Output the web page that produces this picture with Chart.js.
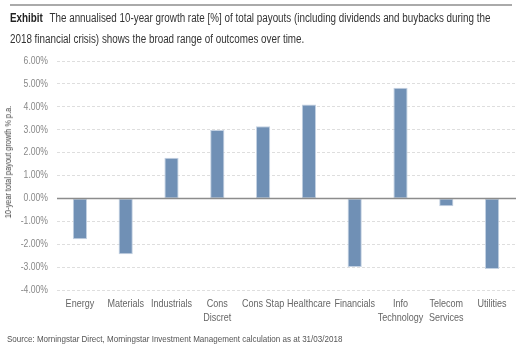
<!DOCTYPE html>
<html>
<head>
<meta charset="utf-8">
<script src="https://cdn.jsdelivr.net/npm/chart.js@4"></script>
<style>
  html, body { margin: 0; padding: 0; background: #fff; }
  body { width: 520px; height: 352px; position: relative; overflow: hidden;
         font-family: "Liberation Sans", Arial, sans-serif; }
  .narrow { transform: scaleX(0.82); transform-origin: 0 0; white-space: nowrap; }
  #topline { position: absolute; left: 10px; top: 4px; width: 502px; height: 2px; background: #aaa; }
  #title { position: absolute; left: 10px; top: 8px; font-size: 12px; line-height: 21px; color: #333; }
  #title b { color: #222; margin-right: 5px; }
  #source { position: absolute; left: 7px; top: 333px; font-size: 9.8px; color: #555; }
  #ytitle { position: absolute; left: 8px; top: 162px; font-size: 9px; color: #444; white-space: nowrap;
            transform: translate(-50%, -50%) rotate(-90deg) scaleX(0.82); }
  #wrap { position: absolute; left: 0; top: 0; width: 520px; height: 352px; }
</style>
</head>
<body>
<div id="topline"></div>
<div id="wrap"><canvas id="c" width="520" height="352"></canvas></div>
<div id="title" class="narrow"><b>Exhibit</b> The annualised 10-year growth rate [%] of total payouts (including dividends and buybacks during the<br>2018 financial crisis) shows the broad range of outcomes over time.</div>
<div id="ytitle">10-year total payout growth % p.a.</div>
<div id="source" class="narrow">Source: Morningstar Direct, Morningstar Investment Management calculation as at 31/03/2018</div>
<script>
const categories = ["Energy", "Materials", "Industrials", ["Cons", "Discret"], "Cons Stap", "Healthcare", "Financials", ["Info", "Technology"], ["Telecom", "Services"], "Utilities"];
const payoutGrowth = [-1.78, -2.44, 1.78, 2.99, 3.15, 4.10, -3.00, 4.83, -0.34, -3.08];
const yTicks = [-4, -3, -2, -1, 0, 1, 2, 3, 4, 5, 6];

const FONT = '"Liberation Sans", Arial, sans-serif';

const canvas = document.getElementById('c');
const ctx2d = canvas.getContext('2d');
const origFillText = ctx2d.fillText.bind(ctx2d);
// condensed look for canvas text (horizontal squeeze around the anchor point)
ctx2d.fillText = function (t, x, y, mw) {
  this.save();
  this.translate(x, y);
  this.scale(0.82, 1);
  if (mw === undefined) origFillText(t, 0, 0); else origFillText(t, 0, 0, mw / 0.82);
  this.restore();
};

const zeroLine = {
  id: 'zeroLine',
  afterDatasetsDraw(chart) {
    const y = chart.scales.y.getPixelForValue(0);
    const ctx = chart.ctx;
    ctx.save();
    ctx.strokeStyle = '#8c8c8c';
    ctx.lineWidth = 1.5;
    ctx.beginPath();
    ctx.moveTo(chart.chartArea.left, y);
    ctx.lineTo(chart.chartArea.right + 1, y);
    ctx.stroke();
    ctx.restore();
  }
};

new Chart(canvas, {
  type: 'bar',
  data: {
    labels: categories,
    datasets: [{
      data: payoutGrowth,
      backgroundColor: '#7090b5',
      borderColor: '#c3d1e2',
      borderWidth: 1,
      borderSkipped: false,
      barPercentage: 0.31,
      categoryPercentage: 1.0
    }]
  },
  options: {
    responsive: false,
    animation: false,
    devicePixelRatio: 1,
    layout: { padding: { top: 61, right: 5, bottom: 0, left: 0 } },
    plugins: { legend: { display: false }, tooltip: { enabled: false } },
    scales: {
      x: {
        grid: { display: false, drawTicks: false },
        border: { display: false },
        ticks: {
          color: '#666',
          font: { family: FONT, size: 11, lineHeight: 1.27 },
          padding: 7,
          maxRotation: 0,
          autoSkip: false
        },
        afterFit(scale) { scale.height = 62; }
      },
      y: {
        min: -4, max: 6,
        afterBuildTicks(scale) { scale.ticks = yTicks.map(v => ({ value: v })); },
        grid: {
          color: '#dedede',
          lineWidth: (ctx) => (ctx.tick && ctx.tick.value === 0 ? 0 : 1),
          drawTicks: false
        },
        border: { display: false, dash: [3, 2] },
        ticks: {
          color: '#888',
          font: { family: FONT, size: 10.5 },
          padding: 9,
          callback: (v) => Number(v).toFixed(2) + '%'
        },
        afterFit(scale) { scale.width = 57; }
      }
    }
  },
  plugins: [zeroLine]
});
</script>
</body>
</html>
